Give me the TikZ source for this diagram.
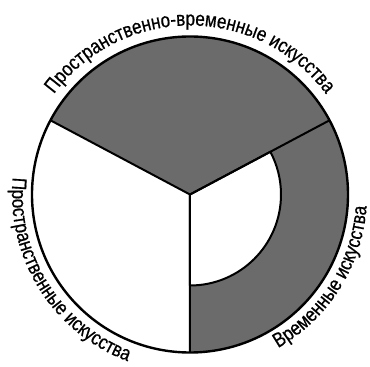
\documentclass[tikz,border=0pt]{standalone}
\usepackage{fontspec}
\setmainfont[FakeStretch=0.83,FakeBold=0.6]{Liberation Sans}
\usetikzlibrary{decorations.text}
\definecolor{artgray}{gray}{0.42}

\begin{document}
\begin{tikzpicture}[x=1pt,y=1pt,line join=round,
    sector/.style={fill=artgray},
    arclabel/.style={decorate,decoration={text along path,text align=center,
      text={|\fontsize{20.5}{23}\selectfont|#1}}}]
  \useasboundingbox (-190,-172.5) rectangle (180,194.5);
  \coordinate (O) at (0,0);
  \coordinate (P) at (152:158);
  \coordinate (Q) at (28:158);
  \coordinate (S) at (270:158);
  \fill[sector] (O) -- (Q) arc[start angle=28,end angle=152,radius=158] -- cycle;
  \fill[sector] (O) -- (S) arc[start angle=270,end angle=388,radius=158] -- cycle;
  \draw[line width=2pt,fill=white] (O) -- (270:91)
     arc[start angle=270,end angle=388,radius=91] -- cycle;
  \draw[line width=2pt] (P) -- (O) -- (Q) (O) -- (S);
  \draw[line width=2.4pt] (O) circle[radius=158];
  \path[arclabel=Пространственно-временные искусства]
     (175:169) arc[start angle=175,end angle=5,radius=169];
  \path[arclabel=Пространственные искусства]
     (150:178) arc[start angle=150,end angle=274,radius=178];
  \path[arclabel=Временные искусства]
     (266:177) arc[start angle=266,end angle=390,radius=177];
\end{tikzpicture}
\end{document}
